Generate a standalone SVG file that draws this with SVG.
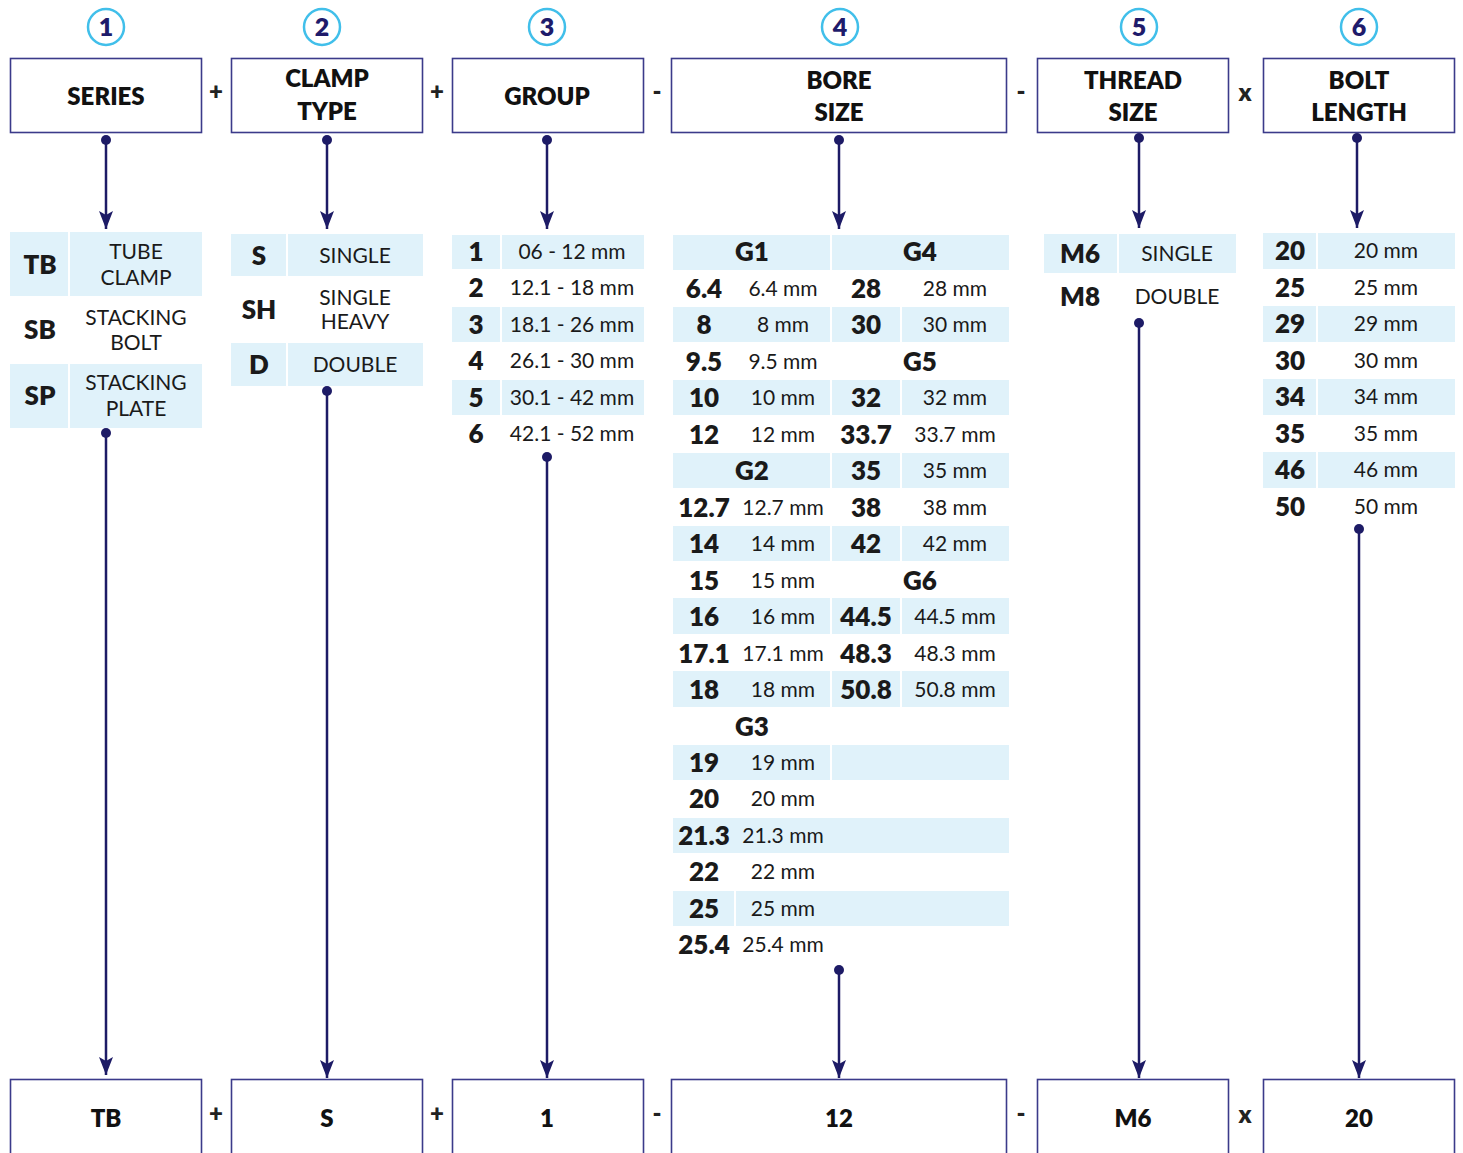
<svg xmlns="http://www.w3.org/2000/svg" width="1463" height="1153" viewBox="0 0 1463 1153">
<defs>
<style>
.box{fill:#fff;stroke:#3b3a8a;stroke-width:1.6}
.hd{font-family:Lato,"Open Sans","DejaVu Sans",sans-serif;font-weight:800;font-size:24px;fill:#111;text-anchor:middle}
.op{font-family:Lato,"DejaVu Sans",sans-serif;font-weight:800;font-size:24px;fill:#222;text-anchor:middle}
.num{font-family:Lato,"DejaVu Sans",sans-serif;font-weight:800;font-size:25px;fill:#1e1b6b;text-anchor:middle}
.ring{fill:#fff;stroke:#41bfea;stroke-width:2.5}
.cell{fill:#e0f2fa}
.cd{font-family:Lato,"Open Sans","DejaVu Sans",sans-serif;font-weight:800;font-size:26px;fill:#1a1a1a;text-anchor:middle}
.ds{font-family:Lato,"Open Sans","DejaVu Sans",sans-serif;font-weight:400;font-size:21px;fill:#1a1a1a;text-anchor:middle}
.ln{stroke:#1d1b66;stroke-width:2.5;fill:none}
.dot{fill:#1d1b66}
</style>
<marker id="ah" markerUnits="userSpaceOnUse" markerWidth="18" markerHeight="14" refX="18" refY="7" orient="auto" viewBox="0 0 18 14">
<path d="M0,0 L18,7 L0,14 L4,7 Z" fill="#1d1b66"/>
</marker>
</defs>

<!-- step circles -->
<g id="steps">
<circle class="ring" cx="106" cy="27" r="18"/><text class="num" x="106" y="36">1</text>
<circle class="ring" cx="322" cy="27" r="18"/><text class="num" x="322" y="36">2</text>
<circle class="ring" cx="547" cy="27" r="18"/><text class="num" x="547" y="36">3</text>
<circle class="ring" cx="840" cy="27" r="18"/><text class="num" x="840" y="36">4</text>
<circle class="ring" cx="1139" cy="27" r="18"/><text class="num" x="1139" y="36">5</text>
<circle class="ring" cx="1359" cy="27" r="18"/><text class="num" x="1359" y="36">6</text>
</g>

<!-- header boxes -->
<g id="h-series"><rect class="box" x="10.5" y="58.5" width="191" height="74"/><text class="hd" x="106" y="105">SERIES</text></g>
<g id="h-clamp"><rect class="box" x="231.5" y="58.5" width="191" height="74"/><text class="hd" x="327" y="87">CLAMP</text><text class="hd" x="327" y="120">TYPE</text></g>
<g id="h-group"><rect class="box" x="452.5" y="58.5" width="191" height="74"/><text class="hd" x="547" y="105">GROUP</text></g>
<g id="h-bore"><rect class="box" x="671.5" y="58.5" width="335" height="74"/><text class="hd" x="839" y="89">BORE</text><text class="hd" x="839" y="121">SIZE</text></g>
<g id="h-thread"><rect class="box" x="1037.5" y="58.5" width="191" height="74"/><text class="hd" x="1133" y="89">THREAD</text><text class="hd" x="1133" y="121">SIZE</text></g>
<g id="h-bolt"><rect class="box" x="1263.5" y="58.5" width="191" height="74"/><text class="hd" x="1359" y="89">BOLT</text><text class="hd" x="1359" y="121">LENGTH</text></g>

<g id="ops-top">
<text class="op" x="216" y="100">+</text>
<text class="op" x="437" y="100">+</text>
<text class="op" x="657" y="100">-</text>
<text class="op" x="1021" y="100">-</text>
<text class="op" x="1245" y="101">x</text>
</g>

<!-- series table -->
<g id="t-series">
<rect class="cell" x="10" y="232" width="58" height="64"/><rect class="cell" x="70" y="232" width="132" height="64"/>
<rect class="cell" x="10" y="364" width="58" height="64"/><rect class="cell" x="70" y="364" width="132" height="64"/>
<text class="cd" x="40" y="274">TB</text><text class="ds" x="136" y="259">TUBE</text><text class="ds" x="136" y="285">CLAMP</text>
<text class="cd" x="40" y="339">SB</text><text class="ds" x="136" y="325">STACKING</text><text class="ds" x="136" y="350">BOLT</text>
<text class="cd" x="40" y="405">SP</text><text class="ds" x="136" y="390">STACKING</text><text class="ds" x="136" y="416">PLATE</text>
</g>

<!-- clamp table -->
<g id="t-clamp">
<rect class="cell" x="231" y="234" width="55" height="42"/><rect class="cell" x="288" y="234" width="135" height="42"/>
<rect class="cell" x="231" y="343" width="55" height="43"/><rect class="cell" x="288" y="343" width="135" height="43"/>
<text class="cd" x="259" y="265">S</text><text class="ds" x="355" y="263">SINGLE</text>
<text class="cd" x="259" y="319">SH</text><text class="ds" x="355" y="305">SINGLE</text><text class="ds" x="355" y="329">HEAVY</text>
<text class="cd" x="259" y="374">D</text><text class="ds" x="355" y="372">DOUBLE</text>
</g>

<!-- group table -->
<g id="t-group">
<rect class="cell" x="452" y="235" width="48" height="34"/><rect class="cell" x="502" y="235" width="142" height="34"/>
<rect class="cell" x="452" y="307" width="48" height="35"/><rect class="cell" x="502" y="307" width="142" height="35"/>
<rect class="cell" x="452" y="380" width="48" height="35"/><rect class="cell" x="502" y="380" width="142" height="35"/>
<text class="cd" x="476" y="261">1</text><text class="ds" x="572" y="259">06 - 12 mm</text>
<text class="cd" x="476" y="297">2</text><text class="ds" x="572" y="295">12.1 - 18 mm</text>
<text class="cd" x="476" y="334">3</text><text class="ds" x="572" y="332">18.1 - 26 mm</text>
<text class="cd" x="476" y="370">4</text><text class="ds" x="572" y="368">26.1 - 30 mm</text>
<text class="cd" x="476" y="407">5</text><text class="ds" x="572" y="405">30.1 - 42 mm</text>
<text class="cd" x="476" y="443">6</text><text class="ds" x="572" y="441">42.1 - 52 mm</text>
</g>

<!-- bore table -->
<g id="t-bore">
<rect class="cell" x="673" y="235" width="157" height="35"/><rect class="cell" x="832" y="235" width="177" height="35"/>
<rect class="cell" x="673" y="307" width="157" height="35"/><rect class="cell" x="832" y="307" width="68" height="35"/><rect class="cell" x="902" y="307" width="107" height="35"/>
<rect class="cell" x="673" y="380" width="157" height="35"/><rect class="cell" x="832" y="380" width="68" height="35"/><rect class="cell" x="902" y="380" width="107" height="35"/>
<rect class="cell" x="673" y="453" width="157" height="35"/><rect class="cell" x="832" y="453" width="68" height="35"/><rect class="cell" x="902" y="453" width="107" height="35"/>
<rect class="cell" x="673" y="526" width="157" height="35"/><rect class="cell" x="832" y="526" width="68" height="35"/><rect class="cell" x="902" y="526" width="107" height="35"/>
<rect class="cell" x="673" y="598" width="157" height="36"/><rect class="cell" x="832" y="598" width="68" height="36"/><rect class="cell" x="902" y="598" width="107" height="36"/>
<rect class="cell" x="673" y="671" width="157" height="36"/><rect class="cell" x="832" y="671" width="68" height="36"/><rect class="cell" x="902" y="671" width="107" height="36"/>
<rect class="cell" x="673" y="745" width="157" height="35"/><rect class="cell" x="832" y="745" width="177" height="35"/>
<rect class="cell" x="673" y="818" width="336" height="35"/>
<rect class="cell" x="673" y="891" width="61" height="35"/><rect class="cell" x="736" y="891" width="273" height="35"/>

<text class="cd" x="752" y="261">G1</text><text class="cd" x="920" y="261">G4</text>
<text class="cd" x="704" y="298">6.4</text><text class="ds" x="783" y="296">6.4 mm</text><text class="cd" x="866" y="298">28</text><text class="ds" x="955" y="296">28 mm</text>
<text class="cd" x="704" y="334">8</text><text class="ds" x="783" y="332">8 mm</text><text class="cd" x="866" y="334">30</text><text class="ds" x="955" y="332">30 mm</text>
<text class="cd" x="704" y="371">9.5</text><text class="ds" x="783" y="369">9.5 mm</text><text class="cd" x="920" y="371">G5</text>
<text class="cd" x="704" y="407">10</text><text class="ds" x="783" y="405">10 mm</text><text class="cd" x="866" y="407">32</text><text class="ds" x="955" y="405">32 mm</text>
<text class="cd" x="704" y="444">12</text><text class="ds" x="783" y="442">12 mm</text><text class="cd" x="866" y="444">33.7</text><text class="ds" x="955" y="442">33.7 mm</text>
<text class="cd" x="752" y="480">G2</text><text class="cd" x="866" y="480">35</text><text class="ds" x="955" y="478">35 mm</text>
<text class="cd" x="704" y="517">12.7</text><text class="ds" x="783" y="515">12.7 mm</text><text class="cd" x="866" y="517">38</text><text class="ds" x="955" y="515">38 mm</text>
<text class="cd" x="704" y="553">14</text><text class="ds" x="783" y="551">14 mm</text><text class="cd" x="866" y="553">42</text><text class="ds" x="955" y="551">42 mm</text>
<text class="cd" x="704" y="590">15</text><text class="ds" x="783" y="588">15 mm</text><text class="cd" x="920" y="590">G6</text>
<text class="cd" x="704" y="626">16</text><text class="ds" x="783" y="624">16 mm</text><text class="cd" x="866" y="626">44.5</text><text class="ds" x="955" y="624">44.5 mm</text>
<text class="cd" x="704" y="663">17.1</text><text class="ds" x="783" y="661">17.1 mm</text><text class="cd" x="866" y="663">48.3</text><text class="ds" x="955" y="661">48.3 mm</text>
<text class="cd" x="704" y="699">18</text><text class="ds" x="783" y="697">18 mm</text><text class="cd" x="866" y="699">50.8</text><text class="ds" x="955" y="697">50.8 mm</text>
<text class="cd" x="752" y="736">G3</text>
<text class="cd" x="704" y="772">19</text><text class="ds" x="783" y="770">19 mm</text>
<text class="cd" x="704" y="808">20</text><text class="ds" x="783" y="806">20 mm</text>
<text class="cd" x="704" y="845">21.3</text><text class="ds" x="783" y="843">21.3 mm</text>
<text class="cd" x="704" y="881">22</text><text class="ds" x="783" y="879">22 mm</text>
<text class="cd" x="704" y="918">25</text><text class="ds" x="783" y="916">25 mm</text>
<text class="cd" x="704" y="954">25.4</text><text class="ds" x="783" y="952">25.4 mm</text>
</g>

<!-- thread table -->
<g id="t-thread">
<rect class="cell" x="1044" y="234" width="73" height="39"/><rect class="cell" x="1119" y="234" width="117" height="39"/>
<text class="cd" x="1080" y="263">M6</text><text class="ds" x="1177" y="261">SINGLE</text>
<text class="cd" x="1080" y="306">M8</text><text class="ds" x="1177" y="304">DOUBLE</text>
</g>

<!-- bolt table -->
<g id="t-bolt">
<rect class="cell" x="1263" y="233" width="53" height="36"/><rect class="cell" x="1318" y="233" width="137" height="36"/>
<rect class="cell" x="1263" y="306" width="53" height="36"/><rect class="cell" x="1318" y="306" width="137" height="36"/>
<rect class="cell" x="1263" y="379" width="53" height="36"/><rect class="cell" x="1318" y="379" width="137" height="36"/>
<rect class="cell" x="1263" y="452" width="53" height="36"/><rect class="cell" x="1318" y="452" width="137" height="36"/>
<text class="cd" x="1290" y="260">20</text><text class="ds" x="1386" y="258">20 mm</text>
<text class="cd" x="1290" y="297">25</text><text class="ds" x="1386" y="295">25 mm</text>
<text class="cd" x="1290" y="333">29</text><text class="ds" x="1386" y="331">29 mm</text>
<text class="cd" x="1290" y="370">30</text><text class="ds" x="1386" y="368">30 mm</text>
<text class="cd" x="1290" y="406">34</text><text class="ds" x="1386" y="404">34 mm</text>
<text class="cd" x="1290" y="443">35</text><text class="ds" x="1386" y="441">35 mm</text>
<text class="cd" x="1290" y="479">46</text><text class="ds" x="1386" y="477">46 mm</text>
<text class="cd" x="1290" y="516">50</text><text class="ds" x="1386" y="514">50 mm</text>
</g>

<!-- connectors -->
<g id="connectors">
<line class="ln" x1="106" y1="140" x2="106" y2="229" marker-end="url(#ah)"/><circle class="dot" cx="106" cy="140" r="5"/>
<line class="ln" x1="327" y1="140" x2="327" y2="229" marker-end="url(#ah)"/><circle class="dot" cx="327" cy="140" r="5"/>
<line class="ln" x1="547" y1="140" x2="547" y2="229" marker-end="url(#ah)"/><circle class="dot" cx="547" cy="140" r="5"/>
<line class="ln" x1="839" y1="140" x2="839" y2="229" marker-end="url(#ah)"/><circle class="dot" cx="839" cy="140" r="5"/>
<line class="ln" x1="1139" y1="138" x2="1139" y2="228" marker-end="url(#ah)"/><circle class="dot" cx="1139" cy="138" r="5"/>
<line class="ln" x1="1357" y1="138" x2="1357" y2="228" marker-end="url(#ah)"/><circle class="dot" cx="1357" cy="138" r="5"/>

<line class="ln" x1="106" y1="433" x2="106" y2="1075" marker-end="url(#ah)"/><circle class="dot" cx="106" cy="433" r="5"/>
<line class="ln" x1="327" y1="391" x2="327" y2="1078" marker-end="url(#ah)"/><circle class="dot" cx="327" cy="391" r="5"/>
<line class="ln" x1="547" y1="457" x2="547" y2="1078" marker-end="url(#ah)"/><circle class="dot" cx="547" cy="457" r="5"/>
<line class="ln" x1="839" y1="970" x2="839" y2="1078" marker-end="url(#ah)"/><circle class="dot" cx="839" cy="970" r="5"/>
<line class="ln" x1="1139" y1="323" x2="1139" y2="1078" marker-end="url(#ah)"/><circle class="dot" cx="1139" cy="323" r="5"/>
<line class="ln" x1="1359" y1="529" x2="1359" y2="1078" marker-end="url(#ah)"/><circle class="dot" cx="1359" cy="529" r="5"/>
</g>

<!-- result boxes -->
<g id="r-series"><rect class="box" x="10.5" y="1079.5" width="191" height="90"/><text class="hd" x="106" y="1127">TB</text></g>
<g id="r-clamp"><rect class="box" x="231.5" y="1079.5" width="191" height="90"/><text class="hd" x="327" y="1127">S</text></g>
<g id="r-group"><rect class="box" x="452.5" y="1079.5" width="191" height="90"/><text class="hd" x="547" y="1127">1</text></g>
<g id="r-bore"><rect class="box" x="671.5" y="1079.5" width="335" height="90"/><text class="hd" x="839" y="1127">12</text></g>
<g id="r-thread"><rect class="box" x="1037.5" y="1079.5" width="191" height="90"/><text class="hd" x="1133" y="1127">M6</text></g>
<g id="r-bolt"><rect class="box" x="1263.5" y="1079.5" width="191" height="90"/><text class="hd" x="1359" y="1127">20</text></g>

<g id="ops-bottom">
<text class="op" x="216" y="1122">+</text>
<text class="op" x="437" y="1122">+</text>
<text class="op" x="657" y="1122">-</text>
<text class="op" x="1021" y="1122">-</text>
<text class="op" x="1245" y="1123">x</text>
</g>
</svg>
